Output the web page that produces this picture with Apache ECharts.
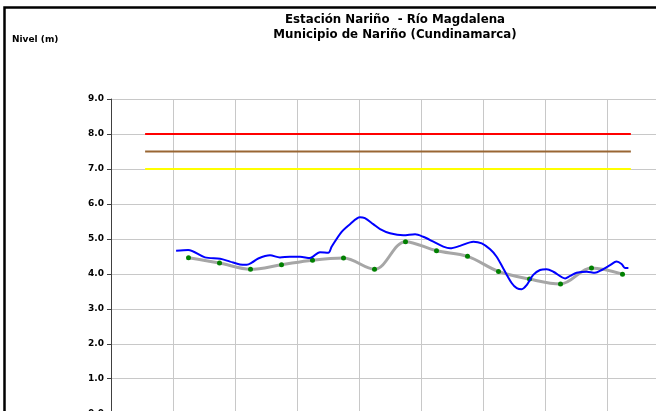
<!DOCTYPE html>
<html>
<head>
<meta charset="utf-8">
<script src="https://cdn.jsdelivr.net/npm/echarts@6/dist/echarts.min.js"></script>
<style>
html,body{margin:0;padding:0;overflow:hidden;background:#fff;width:656px;height:411px;}
#c{width:720px;height:450px;}
</style>
</head>
<body>
<div id="c"></div>
<script>
// ---- data ----
const titleLine1 = 'Estación Nariño  - Río Magdalena';
const titleLine2 = 'Municipio de Nariño (Cundinamarca)';
const yAxisName = 'Nivel (m)';

// threshold levels (m)
const thresholdLevels = [8.0, 7.5, 7.0];
const thresholdColors = ['#ff0000', '#996633', '#ffff00'];
const thresholdStart = 1.1;
const thresholdEnd = 16.77;

// daily readings (day position, level m)
const dailyDays = [2.5, 3.5, 4.5, 5.5, 6.5, 7.5, 8.5, 9.5, 10.5, 11.5, 12.5, 13.5, 14.5, 15.5, 16.5];
const dailyLevel = [4.46, 4.31, 4.13, 4.26, 4.39, 4.45, 4.13, 4.92, 4.66, 4.50, 4.07, 3.85, 3.71, 4.17, 3.99];

// continuous (sensor) readings
const sensorDays = [2.10, 2.49, 3.03, 3.52, 3.84, 4.16, 4.38, 4.54, 4.75, 5.13, 5.45, 5.77, 6.10, 6.42, 6.74, 7.01, 7.12, 7.44, 7.71, 8.03, 8.19, 8.46, 8.68, 9.00, 9.43, 9.81, 10.07, 10.40, 10.72, 10.94, 11.26, 11.69, 11.96, 12.23, 12.44, 12.65, 12.93, 13.09, 13.25, 13.41, 13.62, 13.84, 14.05, 14.27, 14.65, 14.81, 15.02, 15.35, 15.61, 15.83, 16.10, 16.31, 16.47, 16.58, 16.69];
const sensorLevel = [4.66, 4.68, 4.47, 4.43, 4.35, 4.27, 4.26, 4.32, 4.44, 4.53, 4.47, 4.49, 4.49, 4.45, 4.62, 4.60, 4.78, 5.20, 5.42, 5.62, 5.59, 5.42, 5.28, 5.16, 5.10, 5.13, 5.06, 4.92, 4.78, 4.73, 4.80, 4.92, 4.87, 4.70, 4.49, 4.16, 3.73, 3.59, 3.56, 3.68, 3.97, 4.11, 4.13, 4.06, 3.87, 3.94, 4.03, 4.06, 4.03, 4.11, 4.25, 4.35, 4.28, 4.17, 4.17];

// ---- chart ----
const chart = echarts.init(document.getElementById('c'), null, {renderer: 'canvas'});
const font = 'DejaVu Sans';

const thresholdSeries = thresholdLevels.map((lv, i) => ({
  type: 'line',
  data: [[thresholdStart, lv], [thresholdEnd, lv]],
  symbol: 'none',
  lineStyle: {color: thresholdColors[i], width: 2},
  silent: true,
  z: 3
}));

chart.setOption({
  animation: false,
  backgroundColor: '#fff',
  title: [
    {text: titleLine1 + '\n' + titleLine2, left: 395, top: 12, textAlign: 'center', padding: 0,
     textStyle: {fontFamily: font, fontWeight: 'bold', fontSize: 11.8, color: '#000', lineHeight: 15}},
    {text: yAxisName, left: 12, top: 35, padding: 0,
     textStyle: {fontFamily: font, fontWeight: 'bold', fontSize: 9, color: '#000'}}
  ],
  graphic: [{
    type: 'rect', shape: {x: 4.5, y: 7.5, width: 800, height: 600},
    style: {fill: 'none', stroke: '#000', lineWidth: 2.5}, silent: true, z: 100
  }],
  grid: {left: 111, top: 99, width: 558, height: 314.7},
  xAxis: {
    type: 'value', min: 0, max: 18, interval: 2,
    axisLabel: {show: false}, axisTick: {show: false},
    axisLine: {show: false},
    splitLine: {show: true, lineStyle: {color: '#c8c8c8', width: 1}}
  },
  yAxis: {
    type: 'value', min: 0, max: 9, interval: 1,
    axisLine: {show: true, lineStyle: {color: '#404040', width: 1}},
    axisTick: {show: true, inside: false, length: 4, lineStyle: {color: '#404040'}},
    axisLabel: {fontFamily: font, fontWeight: 'bold', fontSize: 9, color: '#000', margin: 7,
      formatter: v => v.toFixed(1)},
    splitLine: {show: true, lineStyle: {color: '#c8c8c8', width: 1}}
  },
  series: [
    ...thresholdSeries,
    {
      type: 'line',
      data: dailyDays.map((d, i) => [d, dailyLevel[i]]),
      smooth: 0.35,
      symbol: 'circle', symbolSize: 5, showSymbol: true,
      lineStyle: {color: '#a6a6a6', width: 3},
      itemStyle: {color: '#008000', borderWidth: 0},
      z: 4
    },
    {
      type: 'line',
      data: sensorDays.map((d, i) => [d, sensorLevel[i]]),
      smooth: 0.3,
      symbol: 'none',
      lineStyle: {color: '#0000ff', width: 2},
      z: 5
    }
  ]
});
</script>
</body>
</html>
